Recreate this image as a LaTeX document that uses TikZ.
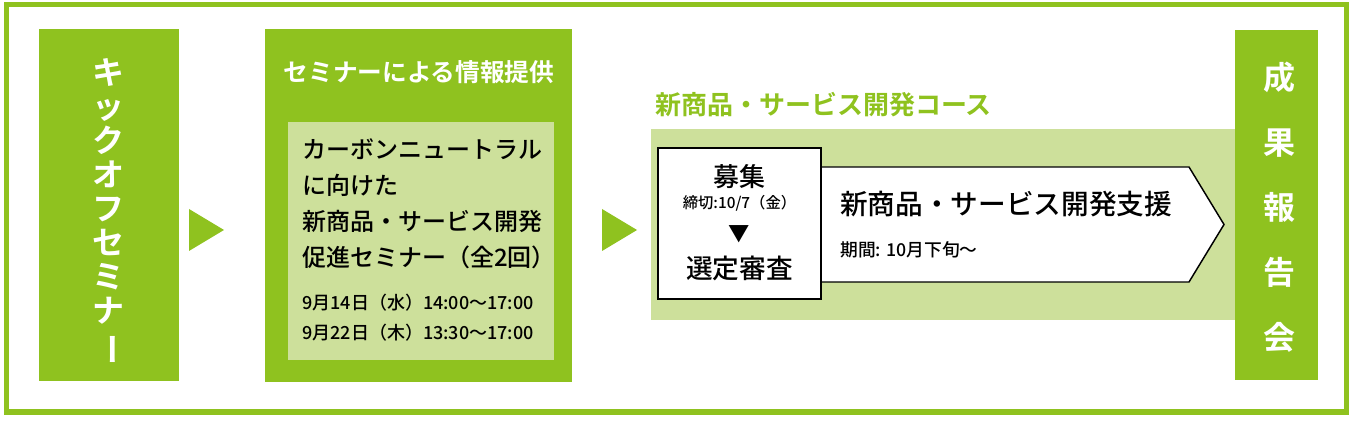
\documentclass[tikz,border=0pt]{standalone}
\usepackage{fontspec}
\setmainfont{Noto Sans CJK JP Medium}[BoldFont=Noto Sans CJK JP Bold]
\usetikzlibrary{positioning}
\definecolor{kgreen}{RGB}{143,194,31}
\definecolor{lgreen}{RGB}{205,224,155}

\begin{document}
\begin{tikzpicture}[x=0.75pt,y=-0.75pt,
    gbox/.style={fill=kgreen,inner sep=0pt},
    wtext/.style={text=white,inner sep=0pt,align=center},
    btext/.style={inner sep=0pt,anchor=west,align=left}]
    \useasboundingbox (0,0) rectangle (1355,423);
    \draw[kgreen,line width=3.75pt] (6.5,4.5) rectangle (1346.5,412);

    \node[gbox,minimum width=105pt,minimum height=264pt] (kick) at (109,205) {};
    \node[wtext,font=\fontsize{24}{25.5}\bfseries\selectfont] (kicktxt) at (108,212) {キ\\ッ\\ク\\オ\\フ\\セ\\ミ\\ナ\\\rotatebox[origin=c]{-90}{ー}};

    \node[gbox,minimum width=230.25pt,minimum height=264.75pt] (sem) at (418.5,205.5) {};
    \node[wtext,font=\fontsize{18.5}{20}\bfseries\selectfont] (semtitle) at (419,72) {セミナーによる情報提供};
    \node[fill=lgreen,inner sep=0pt,minimum width=199.5pt,minimum height=178.5pt] (seminner) at (421,241) {};
    \node[btext,font=\fontsize{18}{27}\selectfont] (semtxt) at (302,204) {カーボンニュートラル\\に向けた\\新商品・サービス開発\\促進セミナー（全2回）};
    \node[btext,font=\fontsize{13.5}{22.5}\selectfont] (semdates) at (302,318) {9月14日（水）14:00〜17:00\\9月22日（木）13:30〜17:00};

    \fill[kgreen] (189,209) -- (224,230) -- (189,251) -- cycle;
    \fill[kgreen] (602,209) -- (637,230) -- (602,251) -- cycle;

    \node[btext,text=kgreen,font=\fontsize{19.5}{20}\bfseries\selectfont] (course) at (655,105) {新商品・サービス開発コース};
    \node[fill=lgreen,inner sep=0pt,minimum width=438pt,minimum height=143.25pt] (band) at (943,224.5) {};

    \draw[fill=white,line width=1.1pt] (821,167) -- (1189,167) -- (1224,224.5) -- (1189,282) -- (821,282);
    \node[btext,font=\fontsize{20.75}{22}\selectfont] (support) at (840,204) {新商品・サービス開発支援};
    \node[btext,font=\fontsize{13.3}{14}\selectfont] (period) at (840,250) {期間: 10月下旬〜};

    \node[draw,fill=white,line width=1.1pt,inner sep=0pt,minimum width=122.25pt,minimum height=113.25pt] (recruit) at (739.5,223.5) {};
    \node[inner sep=0pt,font=\fontsize{19.5}{20}\selectfont] (boshu) at (739.5,177) {募集};
    \node[inner sep=0pt,font=\fontsize{11.5}{12}\selectfont] (deadline) at (739.5,203) {締切:10/7（金）};
    \node[inner sep=0pt,font=\fontsize{16}{16}\selectfont] (down) at (739.5,234) {▼};
    \node[inner sep=0pt,font=\fontsize{20}{20}\selectfont] (review) at (739.5,268) {選定審査};

    \node[gbox,minimum width=62.25pt,minimum height=262.5pt] (result) at (1276.5,205) {};
    \node[wtext,font=\fontsize{24}{48.75}\bfseries\selectfont] (resulttxt) at (1279,207.5) {成\\果\\報\\告\\会};
\end{tikzpicture}
\end{document}
